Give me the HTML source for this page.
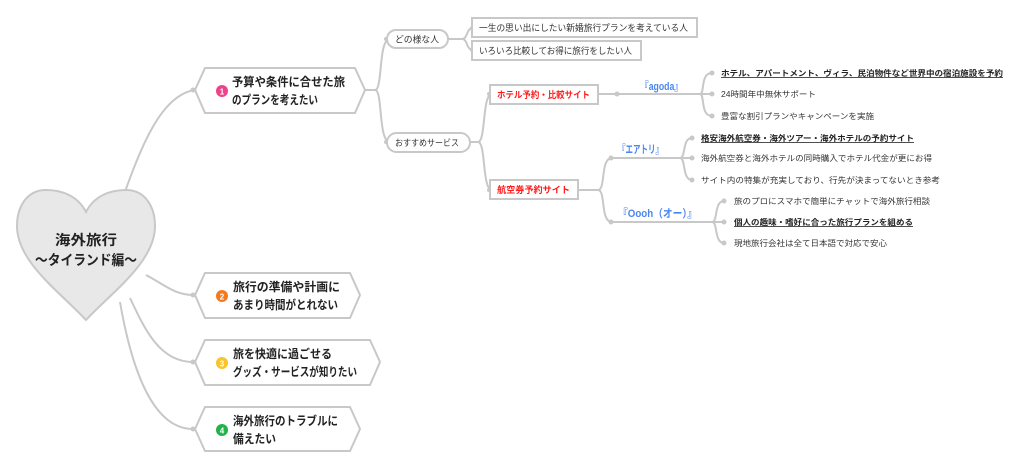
<!DOCTYPE html>
<html><head><meta charset="utf-8"><style>
body{margin:0;background:#fff}
svg text{font-family:"Liberation Sans","Noto Sans CJK JP",sans-serif}
</style></head><body>
<svg width="1024" height="469" viewBox="0 0 1024 469" xmlns="http://www.w3.org/2000/svg">
<g fill="none" stroke="#c8c8c8" stroke-width="2">
<path d="M122,200 C140,150 160,95 195,90"/>
<path d="M146,275 C165,285 175,295 193,295"/>
<path d="M130,298 C145,330 160,362 193,362"/>
<path d="M120,302 C130,360 150,429 193,429"/>
<path d="M365,90 H375 C383,90 378,39 390,39"/>
<path d="M375,90 C383,90 378,142 390,142"/>
<path d="M448,39 H462 C468,39 466,28 473,28"/>
<path d="M462,39 C468,39 466,50 473,50"/>
<path d="M470,142 H478 C486,142 482,94 492,94"/>
<path d="M478,142 C486,142 482,190 492,190"/>
<path d="M598,94 H700"/>
<path d="M700,94 C705,94 700,73 712,73 M700,94 H712 M700,94 C705,94 700,116 712,116"/>
<path d="M578,190 H598 C606,190 600,158 612,158 H680"/>
<path d="M598,190 C606,190 600,222 612,222 H712"/>
<path d="M680,158 C686,158 682,138 692,138 M680,158 H692 M680,158 C686,158 682,180 692,180"/>
<path d="M712,222 C718,222 714,201 724,201 M712,222 H724 M712,222 C718,222 714,243 724,243"/>
</g>
<g fill="#c8c8c8">
<circle cx="617" cy="94" r="2.5"/><circle cx="611" cy="158" r="2.5"/><circle cx="611" cy="222" r="2.5"/>
<circle cx="712" cy="73" r="2.5"/><circle cx="712" cy="94" r="2.5"/><circle cx="712" cy="116" r="2.5"/>
<circle cx="692" cy="138" r="2.5"/><circle cx="692" cy="158" r="2.5"/><circle cx="692" cy="180" r="2.5"/>
<circle cx="724" cy="201" r="2.5"/><circle cx="724" cy="222" r="2.5"/><circle cx="724" cy="243" r="2.5"/>
<circle cx="193" cy="90" r="2.5"/><circle cx="193" cy="295" r="2.5"/><circle cx="193" cy="362" r="2.5"/><circle cx="193" cy="429" r="2.5"/>
<circle cx="386" cy="39" r="2"/><circle cx="386" cy="142" r="2"/><circle cx="472" cy="28" r="2"/><circle cx="472" cy="50" r="2"/><circle cx="489" cy="94" r="2"/><circle cx="489" cy="190" r="2"/>
</g>
<path d="M86,212 C78,196 62,190 46,190 C26,190 17,208 17,226 C17,262 60,292 86,320 C112,292 155,262 155,226 C155,208 146,190 126,190 C110,190 94,196 86,212 Z" fill="#e8e8e8" stroke="#c8c8c8" stroke-width="2"/>
<text x="55" y="245" font-size="14" font-weight="bold" fill="#222" textLength="62" lengthAdjust="spacingAndGlyphs">海外旅行</text>
<text x="35" y="265" font-size="14" font-weight="bold" fill="#222" textLength="102" lengthAdjust="spacingAndGlyphs">〜タイランド編〜</text>
<g fill="#fff" stroke="#c8c8c8" stroke-width="2">
<polygon points="205,68 355,68 365,90 355,113 205,113 195,90"/>
<polygon points="205,273 350,273 360,295 350,318 205,318 195,295"/>
<polygon points="205,340 370,340 380,362 370,385 205,385 195,362"/>
<polygon points="205,407 350,407 360,429 350,451 205,451 195,429"/>
</g>
<circle cx="222" cy="91" r="6" fill="#f0428a"/><text x="222" y="94.5" font-size="8" fill="#fff" text-anchor="middle" font-weight="bold">1</text>
<circle cx="222" cy="296" r="6" fill="#f47a20"/><text x="222" y="299.5" font-size="8" fill="#fff" text-anchor="middle" font-weight="bold">2</text>
<circle cx="222" cy="363" r="6" fill="#f8c42a"/><text x="222" y="366.5" font-size="8" fill="#fff" text-anchor="middle" font-weight="bold">3</text>
<circle cx="222" cy="430" r="6" fill="#22b24c"/><text x="222" y="433.5" font-size="8" fill="#fff" text-anchor="middle" font-weight="bold">4</text>
<g font-size="12" font-weight="bold" fill="#222">
<text x="232" y="86" textLength="113" lengthAdjust="spacingAndGlyphs">予算や条件に合せた旅</text><text x="232" y="104" textLength="86" lengthAdjust="spacingAndGlyphs">のプランを考えたい</text>
<text x="233" y="291" textLength="107" lengthAdjust="spacingAndGlyphs">旅行の準備や計画に</text><text x="233" y="309" textLength="105" lengthAdjust="spacingAndGlyphs">あまり時間がとれない</text>
<text x="233" y="358" textLength="99" lengthAdjust="spacingAndGlyphs">旅を快適に過ごせる</text><text x="233" y="376" textLength="124" lengthAdjust="spacingAndGlyphs">グッズ・サービスが知りたい</text>
<text x="233" y="425" textLength="105" lengthAdjust="spacingAndGlyphs">海外旅行のトラブルに</text><text x="233" y="443" textLength="43" lengthAdjust="spacingAndGlyphs">備えたい</text>
</g>
<g fill="#fff" stroke="#c8c8c8" stroke-width="2">
<rect x="387" y="30" width="61" height="18" rx="9"/>
<rect x="387" y="133" width="83" height="19" rx="9.5"/>
<rect x="472" y="18" width="225" height="19"/>
<rect x="472" y="41" width="169" height="19"/>
<rect x="490" y="85" width="108" height="19"/>
<rect x="490" y="180" width="88" height="19"/>
</g>
<g font-size="9" fill="#333">
<text x="395" y="42.5" textLength="44" lengthAdjust="spacingAndGlyphs">どの様な人</text>
<text x="395" y="146" textLength="64" lengthAdjust="spacingAndGlyphs">おすすめサービス</text>
<text x="479" y="31" textLength="209" lengthAdjust="spacingAndGlyphs">一生の思い出にしたい新婚旅行プランを考えている人</text>
<text x="479" y="54" textLength="153" lengthAdjust="spacingAndGlyphs">いろいろ比較してお得に旅行をしたい人</text>
</g>
<g font-size="9" font-weight="bold" fill="#ff1a1a">
<text x="497" y="98" textLength="93" lengthAdjust="spacingAndGlyphs">ホテル予約・比較サイト</text>
<text x="497" y="193" textLength="73" lengthAdjust="spacingAndGlyphs">航空券予約サイト</text>
</g>
<g font-size="11" font-weight="bold" fill="#4a86f0">
<text x="640" y="90" textLength="43" lengthAdjust="spacingAndGlyphs">『agoda』</text>
<text x="618" y="153" textLength="45" lengthAdjust="spacingAndGlyphs">『エアトリ』</text>
<text x="618" y="217" textLength="79" lengthAdjust="spacingAndGlyphs">『Oooh（オー）』</text>
</g>
<g font-size="8" fill="#333">
<text x="721" y="76" font-weight="bold" text-decoration="underline" fill="#222" textLength="282" lengthAdjust="spacingAndGlyphs">ホテル、アパートメント、ヴィラ、民泊物件など世界中の宿泊施設を予約</text>
<text x="721" y="97" textLength="95" lengthAdjust="spacingAndGlyphs">24時間年中無休サポート</text>
<text x="721" y="119" textLength="153" lengthAdjust="spacingAndGlyphs">豊富な割引プランやキャンペーンを実施</text>
<text x="701" y="141" font-weight="bold" text-decoration="underline" fill="#222" textLength="213" lengthAdjust="spacingAndGlyphs">格安海外航空券・海外ツアー・海外ホテルの予約サイト</text>
<text x="701" y="161" textLength="231" lengthAdjust="spacingAndGlyphs">海外航空券と海外ホテルの同時購入でホテル代金が更にお得</text>
<text x="701" y="183" textLength="239" lengthAdjust="spacingAndGlyphs">サイト内の特集が充実しており、行先が決まってないとき参考</text>
<text x="734" y="204" textLength="196" lengthAdjust="spacingAndGlyphs">旅のプロにスマホで簡単にチャットで海外旅行相談</text>
<text x="734" y="225" font-weight="bold" text-decoration="underline" fill="#222" textLength="179" lengthAdjust="spacingAndGlyphs">個人の趣味・嗜好に合った旅行プランを組める</text>
<text x="734" y="246" textLength="153" lengthAdjust="spacingAndGlyphs">現地旅行会社は全て日本語で対応で安心</text>
</g>
</svg>
</body></html>
